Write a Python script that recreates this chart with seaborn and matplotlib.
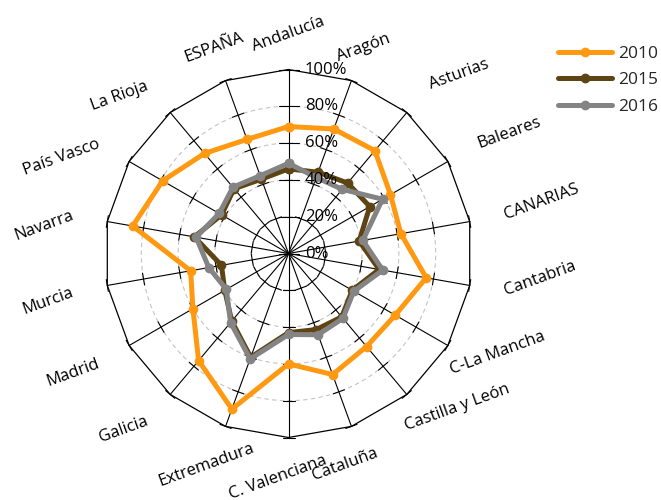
import numpy as np
import pandas as pd
import matplotlib
matplotlib.use("Agg")
import matplotlib.pyplot as plt
from matplotlib.lines import Line2D
import seaborn as sns

# ---------------- data ----------------
categories = ["Andalucía", "Aragón", "Asturias", "Baleares", "CANARIAS", "Cantabria",
              "C-La Mancha", "Castilla y León", "Cataluña", "C. Valenciana", "Extremadura",
              "Galicia", "Madrid", "Murcia", "Navarra", "País Vasco", "La Rioja", "ESPAÑA"]
years = ["2010", "2015", "2016"]
values_2010 = [69, 72, 73, 64, 62, 76, 67, 66, 70, 60, 90, 76, 60, 54, 86, 79, 71, 66]
values_2015 = [46, 47, 50, 51, 39, 50, 40, 45, 44, 43, 60, 48, 40, 37, 52, 42, 46, 43]
values_2016 = [49, 44, 45.5, 59, 41, 52, 41, 46, 47, 44, 61, 49, 39, 44, 51, 43.5, 47, 45]
radial_ticks = [0, 20, 40, 60, 80, 100]
radial_labels = ["0%", "20%", "40%", "60%", "80%", "100%"]

# ---------------- style ----------------
colors = {"2010": "#FF9912", "2015": "#5E4414", "2016": "#848484"}
FIG_W, FIG_H, DPI = 661, 500, 100
CX, CY, R = 288.5, 253.5, 184.0      # pixel centre and radius of 100 %
LABEL_R = 219.0                       # pixel radius of category label anchors
PT = 72.0 / DPI                       # points per pixel
FS = 12
LABEL_NUDGE = {"C-La Mancha": (-28, 7), "Castilla y León": (-24, 5),
               "Cataluña": (-18, 5), "C. Valenciana": (-11, 5), "Extremadura": (-7, 6)}

sns.set_theme(style="white")
plt.rcParams['font.family'] = ['Open Sans', 'DejaVu Sans']

fig = plt.figure(figsize=(FIG_W / DPI, FIG_H / DPI), dpi=DPI)
ax = fig.add_axes([(CX - R) / FIG_W, (FIG_H - CY - R) / FIG_H, 2 * R / FIG_W, 2 * R / FIG_H],
                  projection='polar')
ax.set_theta_zero_location('N')
ax.set_theta_direction(-1)
ax.set_ylim(0, 100)
ax.set_xticks([])
ax.set_yticks([])
ax.grid(False)
ax.spines['polar'].set_visible(False)
ax.patch.set_alpha(0)

n = len(categories)
theta = np.arange(n) * 2 * np.pi / n
px_per_unit = R / 100.0

# dashed gray circles
circ_t = np.linspace(0, 2 * np.pi, 361)
for lv in radial_ticks[1:-1]:
    ax.plot(circ_t, np.full_like(circ_t, lv), color='#c4c4c4', lw=0.8,
            ls=(0, (4, 3)), zorder=1)

# spokes
for t in theta:
    ax.plot([t, t], [0, 100], color='black', lw=0.8, zorder=2, clip_on=False)

# outer polygon
ax.plot(np.append(theta, theta[0]), [100] * (n + 1), color='black', lw=0.9,
        zorder=2, clip_on=False)


def tick(t, r, half_px):
    d = half_px / px_per_unit
    dt = np.arctan2(d, r)
    rr = np.hypot(r, d)
    ax.plot([t - dt, t + dt], [rr, rr], color='black', lw=0.8, zorder=2, clip_on=False)


for i, t in enumerate(theta):
    for lv in radial_ticks:
        if i == 0:
            tick(t, lv, 10)
        elif lv > 0:
            tick(t, lv, 6)

# data lines
rows = []
for y, vals in zip(years, [values_2010, values_2015, values_2016]):
    for i in range(n + 1):
        rows.append({"theta": theta[i] if i < n else 2 * np.pi,
                     "value": vals[i % n], "year": y})
df = pd.DataFrame(rows)
sns.lineplot(data=df, x="theta", y="value", hue="year", palette=colors, sort=False,
             estimator=None, marker='o', markersize=7, linewidth=3.6,
             markeredgewidth=0, legend=False, ax=ax, zorder=5, clip_on=False)
ax.set_xlabel("")
ax.set_ylabel("")

# radial tick labels
for lv, lab in zip(radial_ticks, radial_labels):
    ax.annotate(lab, xy=(0, lv), xytext=(16.5 * PT, 0), textcoords='offset points',
                ha='left', va='center', fontsize=FS, color='black', zorder=10,
                annotation_clip=False)

# category labels
for t, lab in zip(theta, categories):
    s, c = np.sin(t), np.cos(t)
    ha = 'left' if s > 0.5 else ('right' if s < -0.5 else 'center')
    nx, ny = LABEL_NUDGE.get(lab, (0, 0))
    off = LABEL_R - R
    ax.annotate(lab, xy=(t, 100), xytext=((off * s + nx) * PT, (off * c - ny) * PT),
                textcoords='offset points', rotation=20, rotation_mode='anchor',
                ha=ha, va='center', fontsize=FS, color='black', annotation_clip=False)

# legend
handles = [Line2D([], [], color=colors[y], lw=3.6, marker='o', markersize=7,
                  markeredgewidth=0) for y in years]
fig.legend(handles, years, loc='upper left', bbox_to_anchor=(558 / FIG_W, 1 - 45.5 / FIG_H),
           frameon=False, handlelength=3.1, handletextpad=0.35, labelspacing=0.6,
           borderpad=0, borderaxespad=0, fontsize=12.5)

fig.savefig("out.png", dpi=DPI)
